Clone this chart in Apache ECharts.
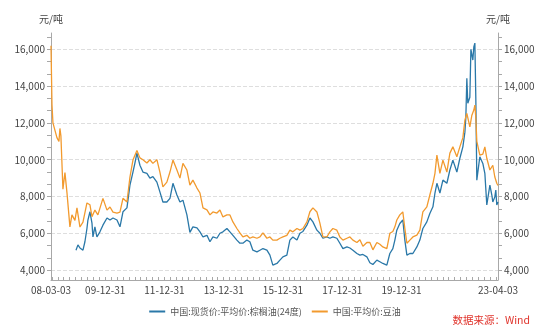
<!DOCTYPE html>
<html><head><meta charset="utf-8">
<script src="https://cdn.jsdelivr.net/npm/echarts@6/dist/echarts.min.js"></script>
<style>html,body{margin:0;padding:0;background:#fff}#c{width:550px;height:332px}</style>
</head><body><div id="c"></div>
<script>
const seriesNames = ['中国:现货价:平均价:棕榈油(24度)', '中国:平均价:豆油'];
const unitLabel = '元/吨';
const sourceText = '数据来源：Wind';

const soyDates = ['2008-03-03','2008-03-15','2008-03-27','2008-04-20','2008-05-15','2008-06-09','2008-06-21','2008-07-03','2008-07-28','2008-08-22','2008-09-16','2008-10-22','2008-11-16','2008-12-23',
'2009-01-17','2009-02-23','2009-04-01','2009-05-20','2009-06-26','2009-07-21','2009-08-26','2009-10-02','2009-12-03',
'2010-01-22','2010-02-28','2010-04-06','2010-05-25','2010-07-01','2010-08-07','2010-09-25','2010-11-01','2010-12-08',
'2011-01-26','2011-03-04','2011-04-10','2011-05-29','2011-07-05','2011-08-11','2011-09-29','2011-11-05','2011-12-12',
'2012-01-30','2012-03-08','2012-04-14','2012-06-02','2012-07-09','2012-08-15','2012-10-03','2012-11-09','2012-12-16',
'2013-02-04','2013-03-13','2013-04-19','2013-06-07','2013-07-14','2013-08-20','2013-10-08','2013-11-14','2013-12-21',
'2014-02-08','2014-03-17','2014-04-23','2014-06-11','2014-07-18','2014-08-24','2014-10-12','2014-11-18','2014-12-25',
'2015-02-13','2015-03-22','2015-04-28','2015-06-16','2015-07-23','2015-08-28','2015-10-17','2015-11-23','2015-12-30',
'2016-02-17','2016-03-25','2016-05-01','2016-06-20','2016-07-27','2016-09-02','2016-10-21','2016-11-27',
'2017-01-03','2017-02-21','2017-03-30','2017-05-06','2017-06-24','2017-07-31','2017-09-06','2017-10-25','2017-12-01',
'2018-01-08','2018-02-26','2018-04-04','2018-05-11','2018-06-29','2018-08-05','2018-09-11','2018-10-30','2018-12-06',
'2019-01-12','2019-03-02','2019-04-08','2019-05-15','2019-07-03','2019-08-09','2019-09-15','2019-10-10','2019-11-03','2019-12-10',
'2020-01-16','2020-02-10','2020-03-06','2020-04-12','2020-05-19','2020-07-07','2020-08-13','2020-09-19','2020-11-07','2020-12-14',
'2021-01-21','2021-02-15','2021-03-11','2021-04-17','2021-05-24','2021-07-12','2021-08-18','2021-09-24','2021-11-12','2021-12-19',
'2022-01-25','2022-02-19','2022-03-15','2022-04-21','2022-05-16','2022-06-09','2022-06-22','2022-07-04','2022-07-16','2022-08-22','2022-09-28','2022-10-23','2022-11-16','2022-12-24',
'2023-01-29','2023-02-23','2023-03-19','2023-04-03'];
const soyValues = [16200,13000,12000,11900,11200,11000,11700,11300,8400,9300,8200,6350,7000,6700,
7380,6340,6610,7650,7550,6900,7260,7000,7900,
7260,7430,7150,7100,7150,7900,7700,9060,9980,
10500,10100,10000,9820,10000,9800,10000,9330,8520,
8780,9330,9980,9440,9000,9800,9440,8620,8890,
8460,8190,7380,7270,7000,7160,7100,7270,6890,
7000,7000,6620,6260,6020,5800,5890,5730,5800,
5730,5800,6020,5730,5800,5630,5630,5730,5800,
5890,6170,6080,6260,6170,6260,6620,7170,
7380,7160,6550,5800,5800,6080,6260,6170,5800,
5630,5730,5800,5630,5500,5650,5300,5500,5500,
5100,5500,5400,5260,5170,6000,6100,6350,6720,7000,
7160,6260,5460,5630,5800,5900,6170,7160,7440,8080,
8720,9260,10250,9260,9980,9330,10360,10700,10160,10700,
11200,12150,12520,11780,12420,12700,12970,12250,11000,10250,10300,10700,10080,9440,
9700,9060,8720,8600];

const palmDates = ['2009-01-05','2009-01-29','2009-02-23','2009-04-01','2009-04-25','2009-05-20','2009-06-01','2009-06-26','2009-07-21','2009-08-02','2009-08-26','2009-09-20','2009-10-27','2009-12-03',
'2010-01-22','2010-02-28','2010-04-06','2010-05-25','2010-07-01','2010-08-07','2010-09-25','2010-11-01','2010-12-08',
'2011-01-01','2011-01-26','2011-03-04','2011-04-10','2011-05-29','2011-07-05','2011-08-11','2011-09-29','2011-11-05','2011-12-12',
'2012-01-30','2012-03-08','2012-04-14','2012-06-02','2012-07-09','2012-08-15','2012-10-03','2012-11-09','2012-12-16',
'2013-02-04','2013-03-13','2013-04-19','2013-06-07','2013-07-14','2013-08-20','2013-10-08','2013-11-14','2013-12-21',
'2014-02-08','2014-03-17','2014-04-23','2014-06-11','2014-07-18','2014-08-24','2014-10-12','2014-11-18','2014-12-25',
'2015-02-13','2015-03-22','2015-04-28','2015-06-16','2015-07-23','2015-08-28','2015-10-17','2015-11-23','2015-12-30',
'2016-02-17','2016-03-25','2016-05-01','2016-06-20','2016-07-27','2016-09-02','2016-10-21','2016-11-27',
'2017-01-03','2017-02-21','2017-03-30','2017-05-06','2017-06-24','2017-07-31','2017-09-06','2017-10-25','2017-12-01',
'2018-01-08','2018-02-26','2018-04-04','2018-05-11','2018-06-29','2018-08-05','2018-09-11','2018-10-30','2018-12-06',
'2019-01-12','2019-03-02','2019-04-08','2019-05-15','2019-07-03','2019-08-09','2019-09-15','2019-10-10','2019-11-03','2019-12-10',
'2020-01-16','2020-02-10','2020-03-06','2020-04-12','2020-05-19','2020-07-07','2020-08-13','2020-09-19','2020-11-07','2020-12-14',
'2021-01-21','2021-02-15','2021-03-11','2021-04-17','2021-05-24','2021-07-12','2021-08-18','2021-09-24','2021-11-12','2021-12-19',
'2022-01-25','2022-02-19','2022-03-03','2022-03-15','2022-03-27','2022-04-21','2022-05-04','2022-05-28','2022-06-09','2022-06-22','2022-07-04','2022-07-16','2022-08-22','2022-09-28','2022-10-23','2022-11-16','2022-12-24',
'2023-01-17','2023-01-29','2023-02-23','2023-03-07','2023-03-19','2023-04-03'];
const palmValues = [5080,5370,5200,5080,5540,6260,6720,7170,6550,5800,6350,5800,6080,6440,
6830,6720,6830,6720,6350,7170,7380,8620,9330,
9820,10360,9700,9330,9260,9000,9080,8780,8250,7700,
7700,7900,8720,8080,7700,7800,7000,6050,6350,
6300,6080,5800,5890,5540,5800,5730,6000,6080,
6260,6080,5890,5630,5460,5460,5630,5540,5080,
4990,5080,5170,5080,4810,4270,4360,4540,4720,
4810,5630,5800,5630,6000,6100,6440,6830,
6620,6170,6000,5730,5800,5730,5800,5730,5460,
5170,5260,5200,5080,4900,4810,4850,4720,4400,
4300,4540,4450,4360,4270,4900,5170,5630,6170,6530,
6720,5630,4810,4900,4900,5260,5630,6260,6620,7080,
7440,8190,8720,8190,8890,8720,9440,9980,9330,10080,
10700,11500,12330,14430,13070,13400,16000,15420,16130,16340,13240,8890,10160,9800,9260,7540,8620,
8080,7700,7980,8350,7540,7700];

const yLabelValues = [4000, 6000, 8000, 10000, 12000, 14000, 16000];
const xLabelDates = ['2008-03-03','2009-12-31','2011-12-31','2013-12-31','2015-12-31','2017-12-31','2019-12-31','2023-04-03'];

function ts(s) { const p = s.split('-').map(Number); return Date.UTC(p[0], p[1] - 1, p[2]); }
function pad(n) { return (n < 10 ? '0' : '') + n; }
function fmtDate(v) { const d = new Date(v); return pad(d.getUTCFullYear() % 100) + '-' + pad(d.getUTCMonth() + 1) + '-' + pad(d.getUTCDate()); }

const xMin = ts('2008-03-03'), xMax = ts('2023-04-03');
const yMin = 3460, yMax = 16890;
const xLabelVals = xLabelDates.map(ts);
// minor tick positions: 10 per two-year label interval
const xTickVals = [];
const step = (ts('2011-12-31') - ts('2009-12-31')) / 10;
for (let t = ts('2009-12-31'); t >= xMin; t -= step) xTickVals.push(t);
for (let t = ts('2009-12-31') + step; t <= xMax; t += step) xTickVals.push(t);
xTickVals.push(xMin, xMax);
const yTickVals = [];
for (let k = -1; k <= 19; k++) { const v = 4000 + k * 2000 / 3; if (v >= yMin && v <= yMax) yTickVals.push(v); }

const font = '"Microsoft YaHei","Noto Sans CJK SC",sans-serif';
const axisColor = '#a8a8a8';
const labelColor = '#444';

const yCommon = {
  type: 'value', min: yMin, max: yMax,
  name: unitLabel, nameLocation: 'end', nameGap: 9,
  nameTextStyle: { color: labelColor, fontSize: 10, fontFamily: font },
  axisLine: { show: true, lineStyle: { color: axisColor } },
  axisTick: { show: true, inside: false, length: 4, customValues: yTickVals, lineStyle: { color: axisColor } },
  axisLabel: { customValues: yLabelValues, color: labelColor, fontSize: 10, fontFamily: font, margin: 6,
    formatter: v => Math.round(v).toLocaleString('en-US') },
  splitLine: { show: false }
};

const chart = echarts.init(document.getElementById('c'), null, { renderer: 'canvas' });
chart.setOption({
  animation: false,
  backgroundColor: '#fff',
  grid: { left: 51, right: 52, top: 33, bottom: 52, containLabel: false },
  legend: {
    top: 302, left: 'center', itemGap: 10, itemWidth: 16, itemHeight: 2, icon: 'rect',
    textStyle: { color: '#555', fontSize: 9, fontFamily: font },
    data: seriesNames
  },
  graphic: [{
    type: 'text', right: 20, top: 315,
    style: { text: sourceText, fill: '#e0342c', font: '10.5px ' + font }
  }],
  xAxis: {
    type: 'value', min: xMin, max: xMax,
    axisLine: { show: true, lineStyle: { color: axisColor } },
    axisTick: { show: true, inside: true, length: 3, customValues: xTickVals, lineStyle: { color: axisColor } },
    axisLabel: { customValues: xLabelVals, formatter: fmtDate, color: labelColor, fontSize: 10, fontFamily: font, margin: 5, showMinLabel: true, showMaxLabel: true },
    splitLine: { show: false }
  },
  yAxis: [
    Object.assign({}, yCommon, { position: 'left' }),
    Object.assign({}, yCommon, { position: 'right' }),
    { type: 'value', min: yMin, max: yMax, position: 'left', show: true,
      axisLine: { show: false }, axisTick: { show: false, customValues: yLabelValues },
      axisLabel: { show: false, customValues: yLabelValues },
      splitLine: { show: true, lineStyle: { color: '#dedede', type: 'dashed', width: 1 } } }
  ],
  series: [
    { name: seriesNames[0], type: 'line', yAxisIndex: 0, showSymbol: false, symbol: 'none',
      color: '#2a78a8', lineStyle: { width: 1.3, color: '#2a78a8' },
      data: palmDates.map((d, i) => [ts(d), palmValues[i]]) },
    { name: seriesNames[1], type: 'line', yAxisIndex: 0, showSymbol: false, symbol: 'none',
      color: '#f29a2e', lineStyle: { width: 1.3, color: '#f29a2e' },
      data: soyDates.map((d, i) => [ts(d), soyValues[i]]) }
  ]
});
</script>
</body></html>
